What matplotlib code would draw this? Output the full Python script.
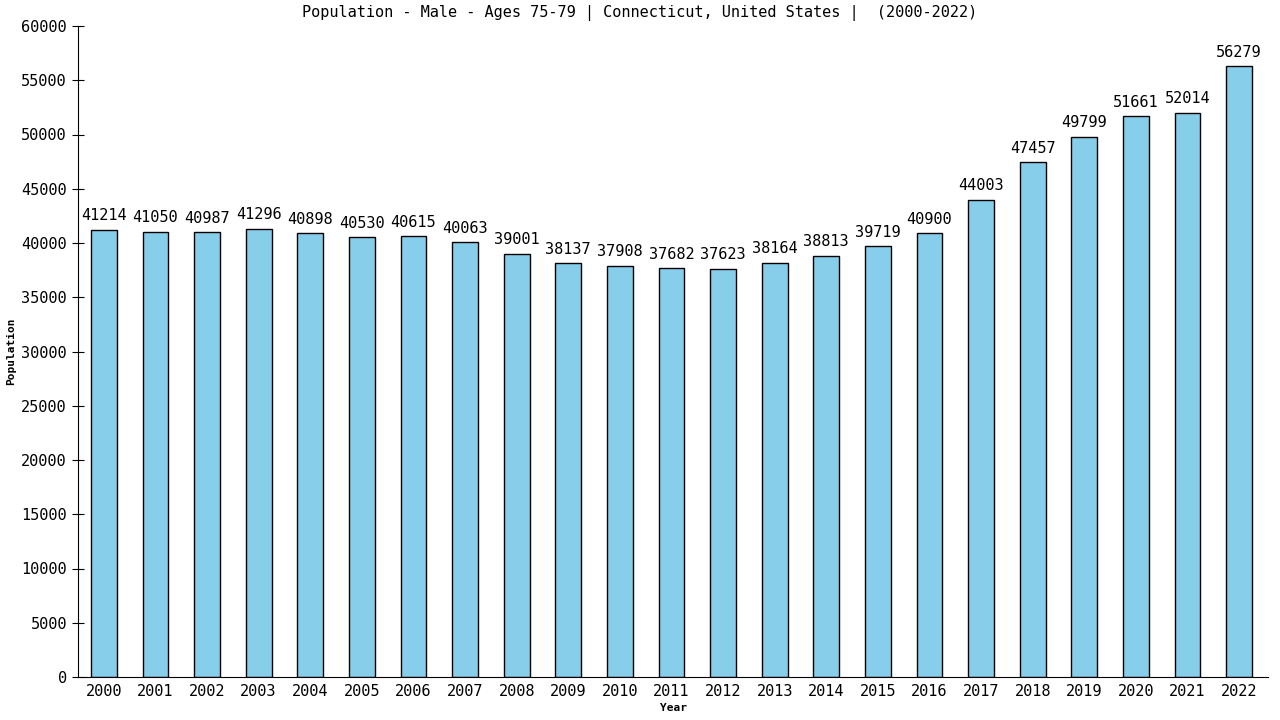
import numpy as np
import matplotlib
matplotlib.use('Agg')
import matplotlib.pyplot as plt

years = list(range(2000, 2023))
population = [41214, 41050, 40987, 41296, 40898, 40530, 40615, 40063, 39001, 38137,
              37908, 37682, 37623, 38164, 38813, 39719, 40900, 44003, 47457, 49799,
              51661, 52014, 56279]
yticks = list(range(0, 60001, 5000))

plt.rcParams['font.family'] = ['DejaVu Sans Mono']

fig = plt.figure(figsize=(12.8, 7.2), dpi=100)
ax = fig.add_axes([78 / 1280, 1 - 677 / 720, (1268 - 78) / 1280, (677 - 26) / 720])

x = np.arange(len(years))
ax.bar(x, population, width=0.5, color='#87ceeb', edgecolor='black', linewidth=1)

for xi, v in zip(x, population):
    ax.text(xi, v + 600, str(v), ha='center', va='bottom', fontsize=11)

ax.set_xlim(-0.5, len(years) - 0.44)
ax.set_ylim(0, 60000)
ax.set_xticks(x)
ax.set_xticklabels([str(y) for y in years], fontsize=11)
ax.set_yticks(yticks)
ax.set_yticklabels([str(t) for t in yticks], fontsize=11)
ax.tick_params(axis='x', length=0, pad=5)
ax.tick_params(axis='y', direction='inout', length=8, pad=4)

for s in ['top', 'right']:
    ax.spines[s].set_visible(False)

ax.set_xlabel('Year', fontsize=8, fontweight='bold', labelpad=3)
ax.set_ylabel('Population', fontsize=8, fontweight='bold', labelpad=4)
fig.text(0.5, 1 - 13 / 720, 'Population - Male - Ages 75-79 | Connecticut, United States |  (2000-2022)',
         ha='center', va='center', fontsize=11)

fig.savefig('out.png', dpi=100)
